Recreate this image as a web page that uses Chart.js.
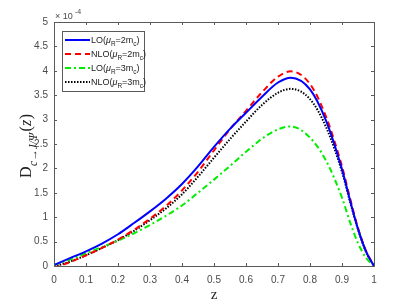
<!DOCTYPE html>
<html>
<head>
<meta charset="utf-8">
<script src="https://cdn.jsdelivr.net/npm/chart.js@4/dist/chart.umd.min.js"></script>
<style>
    html, body { margin: 0; padding: 0; background: #fff; }
    canvas { display: block; }
</style>
</head>
<body>
<canvas id="fragChart" width="415" height="304"></canvas>
<script>
// values are in units of 1e-4
const zValues = [0, 0.05, 0.1, 0.15, 0.2, 0.25, 0.3, 0.35, 0.4, 0.45, 0.5, 0.55, 0.6, 0.65, 0.7, 0.74, 0.8, 0.85, 0.9, 0.925, 0.95, 0.975, 1];
const lo2  = [0.02, 0.16, 0.30, 0.46, 0.65, 0.88, 1.12, 1.38, 1.68, 2.04, 2.44, 2.81, 3.14, 3.47, 3.76, 3.86, 3.62, 2.98, 1.98, 1.35, 0.76, 0.30, 0];
const nlo2 = [-0.04, 0.08, 0.22, 0.37, 0.54, 0.74, 0.97, 1.23, 1.55, 1.93, 2.37, 2.80, 3.18, 3.56, 3.88, 3.99, 3.73, 3.06, 2.04, 1.39, 0.78, 0.31, 0];
const lo3  = [0.02, 0.13, 0.26, 0.39, 0.52, 0.67, 0.84, 1.03, 1.24, 1.50, 1.77, 2.05, 2.34, 2.61, 2.80, 2.86, 2.63, 2.16, 1.40, 0.90, 0.47, 0.17, 0];
const nlo3 = [-0.01, 0.09, 0.22, 0.37, 0.53, 0.72, 0.94, 1.18, 1.47, 1.83, 2.22, 2.60, 2.96, 3.30, 3.55, 3.63, 3.42, 2.85, 1.93, 1.32, 0.75, 0.29, 0];
const xTicks = [0, 0.1, 0.2, 0.3, 0.4, 0.5, 0.6, 0.7, 0.8, 0.9, 1];
const yTicks = [0, 0.5, 1, 1.5, 2, 2.5, 3, 3.5, 4, 4.5, 5];
const seriesNames = ['LO', 'NLO', 'LO', 'NLO'];
const seriesScales = ['2', '2', '3', '3'];

const axisColor = '#5a5a5a';
const tickFont = '10px "Liberation Sans", Arial, sans-serif';

function toPoints(ys) {
    return zValues.map((z, i) => ({x: z, y: ys[i]}));
}

const styles = [
    {color: '#0000ff', dash: []},
    {color: '#ff0000', dash: [6, 4]},
    {color: '#00ee00', dash: [6, 3, 2, 3]},
    {color: '#000000', dash: [1.5, 1.5]}
];
const allSeries = [lo2, nlo2, lo3, nlo3];

const datasets = allSeries.map((ys, i) => ({
    label: `${seriesNames[i]}(μR=${seriesScales[i]}mc)`,
    data: toPoints(ys),
    borderColor: styles[i].color,
    borderDash: styles[i].dash,
    borderWidth: 2,
    pointRadius: 0,
    fill: false,
    cubicInterpolationMode: 'monotone'
}));

// draws text pieces, some of them as subscripts
function drawRich(ctx, parts, x, y, size, family) {
    parts.forEach(p => {
        const fs = p.sub ? size * 0.72 : size;
        ctx.font = `${p.it ? 'italic ' : ''}${fs}px ${family}`;
        ctx.fillText(p.t, x, y + (p.sub ? size * 0.35 : 0));
        x += ctx.measureText(p.t).width + (p.gap || 0);
    });
    return x;
}

const framePlugin = {
    id: 'frame',
    afterDatasetsDraw(chart) {
        const ctx = chart.ctx,
              a = chart.chartArea,
              xs = chart.scales.x,
              ys = chart.scales.y;
        ctx.save();
        ctx.strokeStyle = axisColor;
        ctx.lineWidth = 1;
        ctx.setLineDash([]);
        ctx.strokeRect(Math.round(a.left) + 0.5, Math.round(a.top) + 0.5, Math.round(a.right - a.left), Math.round(a.bottom - a.top));
        // inward ticks on all four sides
        ctx.beginPath();
        xTicks.forEach(t => {
            const px = Math.round(xs.getPixelForValue(t)) + 0.5;
            ctx.moveTo(px, a.bottom); ctx.lineTo(px, a.bottom - 3);
            ctx.moveTo(px, a.top); ctx.lineTo(px, a.top + 3);
        });
        yTicks.forEach(t => {
            const py = Math.round(ys.getPixelForValue(t)) + 0.5;
            ctx.moveTo(a.left, py); ctx.lineTo(a.left + 3, py);
            ctx.moveTo(a.right, py); ctx.lineTo(a.right - 3, py);
        });
        ctx.stroke();

        // tick labels
        ctx.fillStyle = '#4a4a4a';
        ctx.font = tickFont;
        ctx.textAlign = 'center';
        ctx.textBaseline = 'middle';
        xTicks.forEach(t => ctx.fillText(String(t), xs.getPixelForValue(t), a.bottom + 14));
        ctx.textAlign = 'right';
        yTicks.forEach(t => ctx.fillText(String(t), a.left - 6, ys.getPixelForValue(t)));

        // exponent
        ctx.textAlign = 'left';
        ctx.textBaseline = 'alphabetic';
        ctx.font = '9px "Liberation Sans", Arial, sans-serif';
        ctx.fillText('× 10', a.left + 1, a.top - 3);
        ctx.font = '7px "Liberation Sans", Arial, sans-serif';
        ctx.fillText('-4', a.left + 21, a.top - 8);

        // axis titles
        const serif = '"Liberation Serif", "DejaVu Serif", serif';
        ctx.fillStyle = '#222';
        ctx.font = '15px ' + serif;
        ctx.textAlign = 'center';
        ctx.fillText('z', (a.left + a.right) / 2, a.bottom + 33);
        ctx.save();
        ctx.translate(26, 146);
        ctx.rotate(-Math.PI / 2);
        ctx.textAlign = 'left';
        const size = 16;
        const titleParts = [
            {t: 'D', gap: 0.5},
            {t: 'c→J/Ψ', sub: true, it: true, gap: 1.5},
            {t: '(', },
            {t: 'z', it: true, gap: 0.5},
            {t: ')'}
        ];
        let w = 0;
        titleParts.forEach(p => {
            const fs = p.sub ? size * 0.72 : size;
            ctx.font = `${p.it ? 'italic ' : ''}${fs}px ${serif}`;
            w += ctx.measureText(p.t).width + (p.gap || 0);
        });
        drawRich(ctx, titleParts, -w / 2, 5, size, serif);
        ctx.restore();

        // legend
        const lx = 62, ly = 31, lw = 82, lh = 60;
        ctx.fillStyle = '#fff';
        ctx.fillRect(lx, ly, lw, lh);
        ctx.strokeStyle = axisColor;
        ctx.strokeRect(lx + 0.5, ly + 0.5, lw, lh);
        const sans = '"Liberation Sans", Arial, sans-serif';
        datasets.forEach((ds, i) => {
            const ry = ly + 9 + i * 14;
            ctx.strokeStyle = styles[i].color;
            ctx.setLineDash(styles[i].dash);
            ctx.lineWidth = 2;
            ctx.beginPath();
            ctx.moveTo(lx + 3, ry);
            ctx.lineTo(lx + 28, ry);
            ctx.stroke();
            ctx.setLineDash([]);
            ctx.fillStyle = '#222';
            ctx.textAlign = 'left';
            ctx.textBaseline = 'alphabetic';
            drawRich(ctx, [
                {t: seriesNames[i] + '('},
                {t: 'μ', it: true},
                {t: 'R', sub: true},
                {t: '=' + seriesScales[i] + 'm'},
                {t: 'c', sub: true},
                {t: ')'}
            ], lx + 29, ry + 3, 9, sans);
        });
        ctx.restore();
    }
};

new Chart(document.getElementById('fragChart'), {
    type: 'line',
    data: {datasets},
    options: {
        responsive: false,
        maintainAspectRatio: false,
        animation: false,
        layout: {padding: {left: 0, right: 41, top: 22, bottom: 0}},
        plugins: {legend: {display: false}, tooltip: {enabled: false}},
        scales: {
            x: {
                type: 'linear', min: 0, max: 1,
                grid: {display: false},
                border: {display: false},
                ticks: {display: false},
                afterFit: s => { s.height = 38; }
            },
            y: {
                type: 'linear', min: 0, max: 5,
                grid: {display: false},
                border: {display: false},
                ticks: {display: false},
                afterFit: s => { s.width = 54; }
            }
        }
    },
    plugins: [framePlugin]
});
</script>
</body>
</html>
